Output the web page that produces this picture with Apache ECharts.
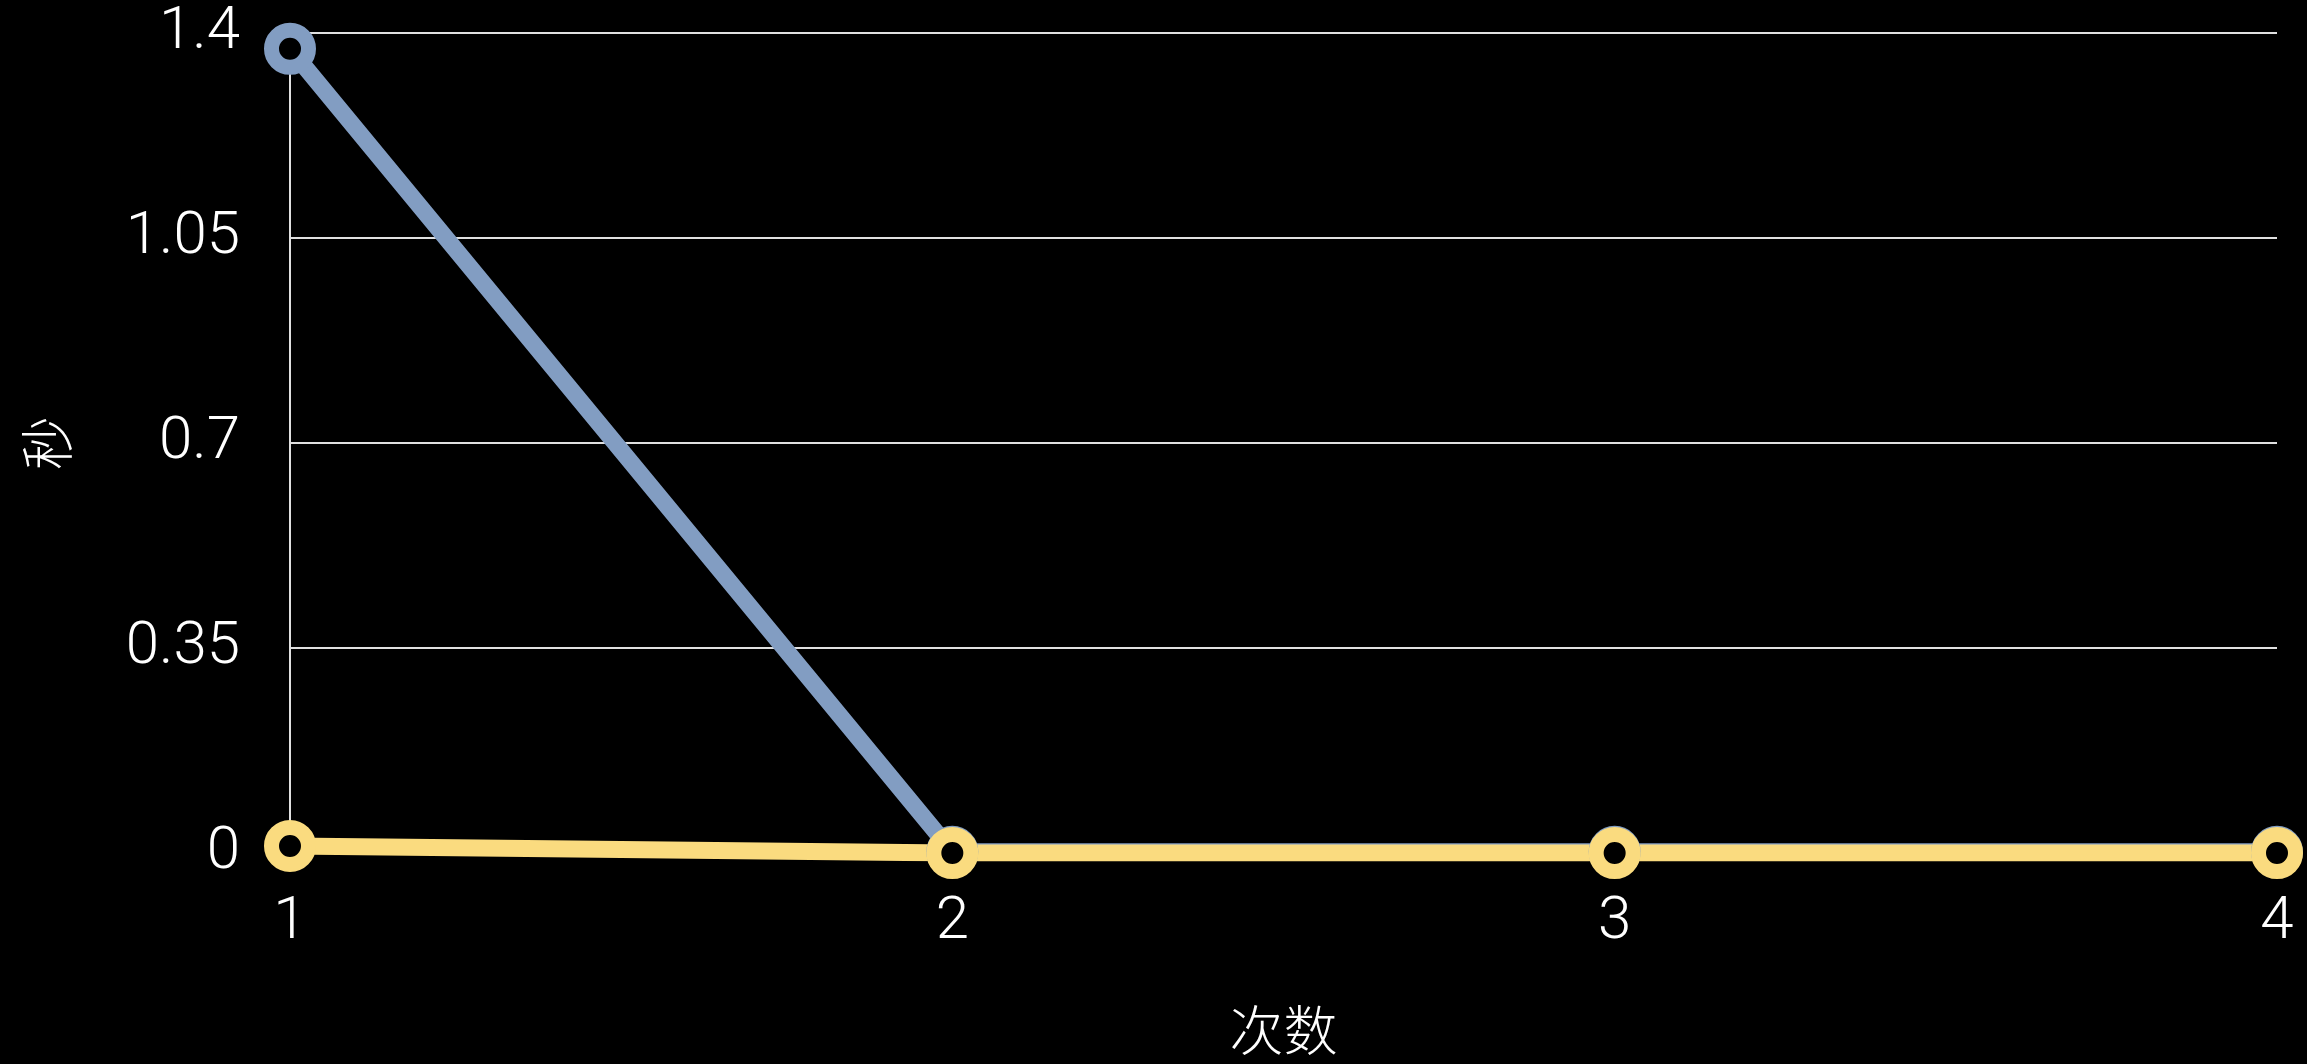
<!DOCTYPE html>
<html>
<head>
<meta charset="utf-8">
<script src="https://cdn.jsdelivr.net/npm/echarts@6/dist/echarts.min.js"></script>
<style>
  html, body { margin: 0; padding: 0; background: #000; }
  #chart { width: 2307px; height: 1064px; }
</style>
</head>
<body>
<div id="chart"></div>
<script>
// data
const categories = ['1', '2', '3', '4']
const blueValues = [1.373, 0.002, 0.002, 0.002]
const yellowValues = [0.012, 0, 0, 0]
const yTicks = { min: 0, max: 1.4, interval: 0.35 }

const labelFont = '"Helvetica Neue", Roboto, "Noto Sans", sans-serif'

const chart = echarts.init(document.getElementById('chart'))

function lineSeries(name, data, color) {
  return {
    name: name,
    type: 'line',
    data: data,
    symbol: 'circle',
    symbolSize: 37,
    lineStyle: { color: color, width: 17 },
    itemStyle: { color: '#000', borderColor: color, borderWidth: 15 },
    emphasis: { disabled: true }
  }
}

chart.setOption({
  backgroundColor: '#000',
  animation: false,
  grid: { left: 290, right: 30, top: 33, bottom: 211, outerBoundsMode: 'none', containLabel: false },
  xAxis: {
    type: 'category',
    boundaryGap: false,
    data: categories,
    name: '次数',
    nameLocation: 'middle',
    nameGap: 150,
    nameTextStyle: { color: '#fff', fontSize: 54, fontFamily: '"Noto Sans CJK SC"', fontWeight: 300 },
    axisLine: { show: false },
    axisTick: { show: false },
    axisLabel: { color: '#fff', fontSize: 60, fontFamily: labelFont, fontWeight: 300, margin: 40 },
    splitLine: { show: false }
  },
  yAxis: {
    type: 'value',
    min: yTicks.min,
    max: yTicks.max,
    interval: yTicks.interval,
    name: '秒',
    nameLocation: 'middle',
    nameRotate: 90,
    nameGap: 216,
    nameTextStyle: { color: '#fff', fontSize: 54, fontFamily: '"Noto Sans CJK SC"', fontWeight: 300 },
    axisLine: { show: true, lineStyle: { color: '#e0e0e0', width: 2 } },
    axisTick: { show: false },
    axisLabel: { color: '#fff', fontSize: 60, fontFamily: labelFont, fontWeight: 300, margin: 50, padding: [8, 0, 0, 0] },
    splitLine: { show: true, lineStyle: { color: '#e0e0e0', width: 2 } }
  },
  series: [
    lineSeries('blue', blueValues, '#829dc2'),
    lineSeries('yellow', yellowValues, '#fadb7f')
  ]
})
</script>
</body>
</html>
